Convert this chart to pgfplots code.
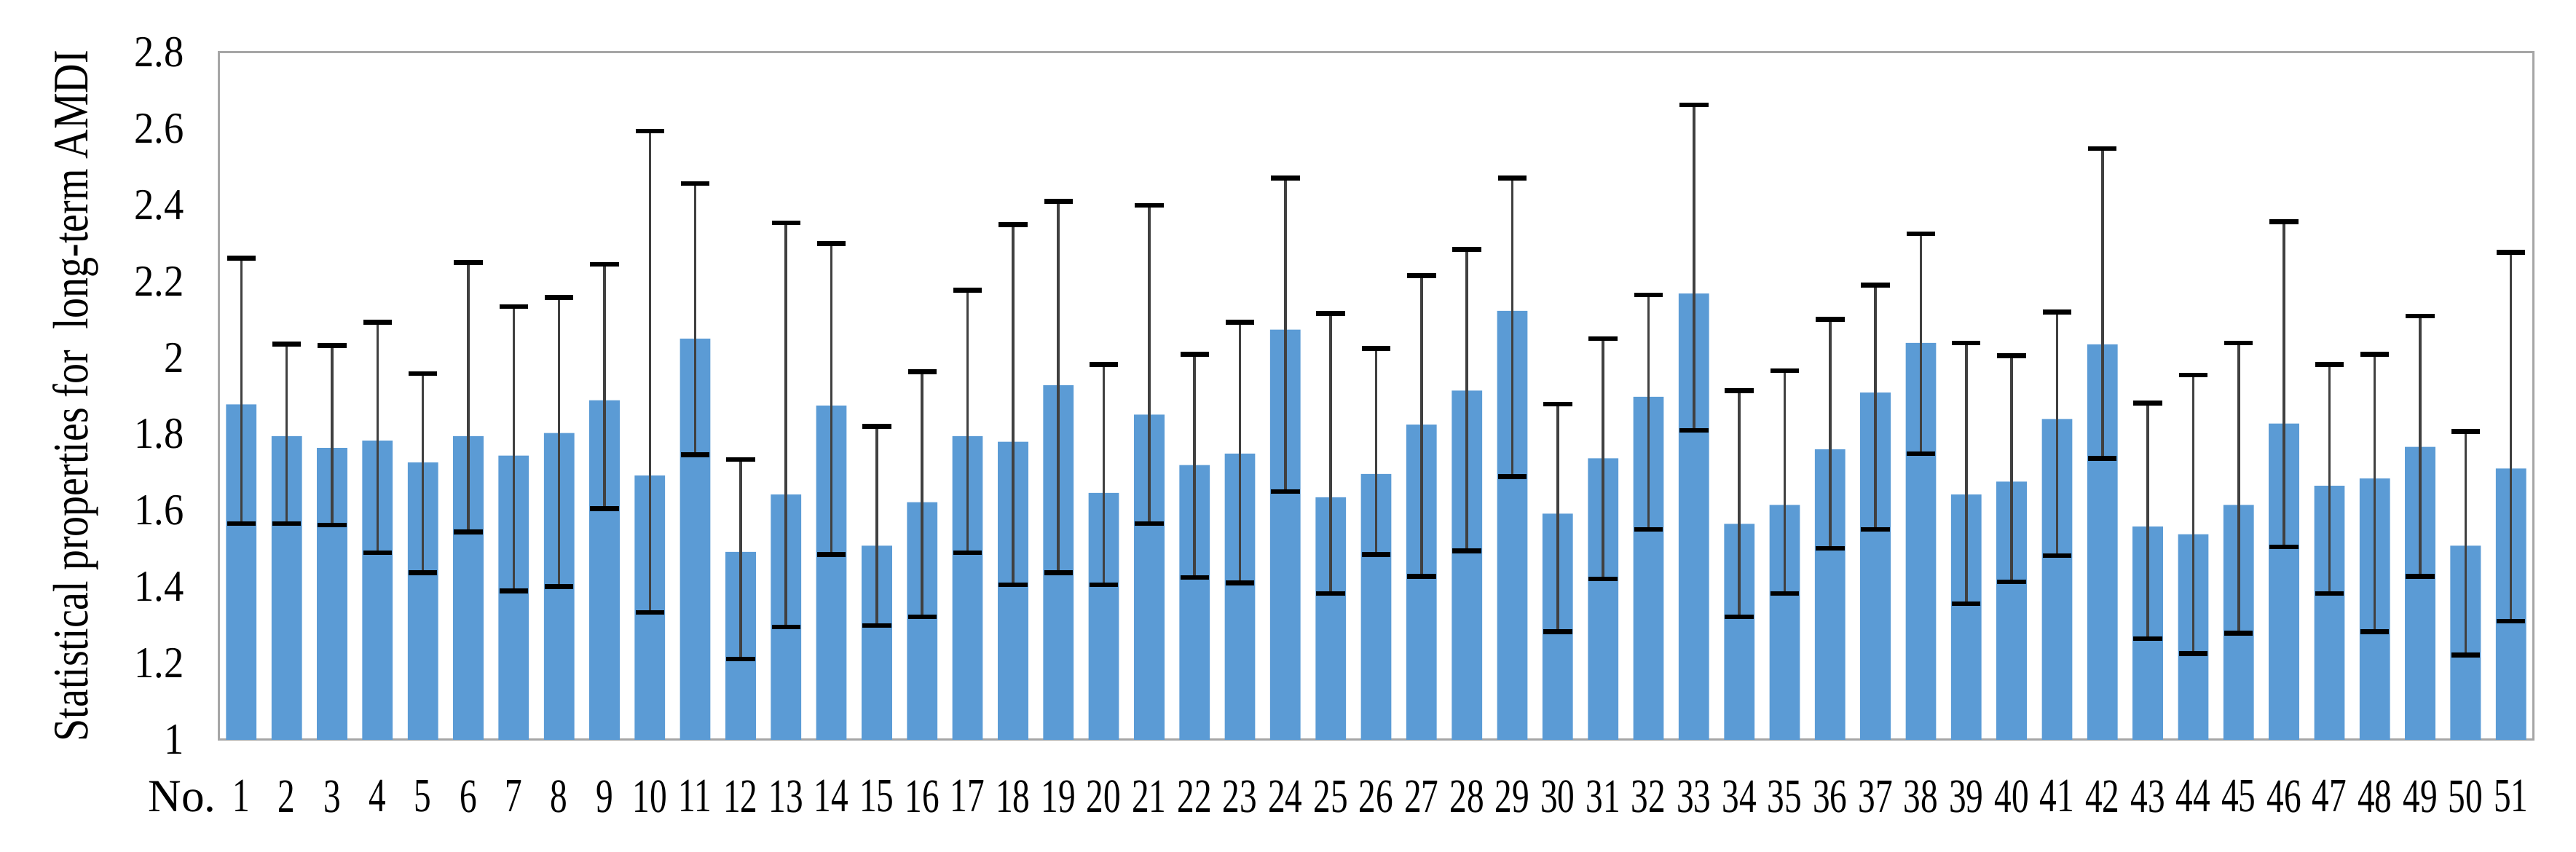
\documentclass[border=0pt]{standalone}
\usepackage{pgfplots}
\usepackage{pgfplotstable}
\usepackage{fontspec}
\setmainfont{Liberation Serif}
\newfontfamily\condfont[FakeStretch=0.72]{Liberation Serif}
\newfontfamily\yfont[FakeStretch=0.9]{Liberation Serif}
\newfontfamily\labfont[FakeStretch=0.82]{Liberation Serif}
\pgfplotsset{compat=1.18}
\definecolor{barblue}{HTML}{5B9BD5}
\definecolor{framegray}{HTML}{A6A6A6}
\pgfplotstableread{
x y hi lo
1 1.878 2.261 1.566
2 1.795 2.036 1.566
3 1.764 2.032 1.562
4 1.783 2.093 1.490
5 1.726 1.959 1.437
6 1.795 2.249 1.544
7 1.744 2.134 1.390
8 1.803 2.158 1.401
9 1.889 2.245 1.605
10 1.692 2.594 1.333
11 2.050 2.456 1.746
12 1.492 1.734 1.211
13 1.642 2.353 1.295
14 1.875 2.299 1.485
15 1.508 1.821 1.299
16 1.622 1.963 1.322
17 1.795 2.177 1.490
18 1.780 2.349 1.406
19 1.928 2.410 1.437
20 1.646 1.983 1.406
21 1.851 2.399 1.566
22 1.719 2.009 1.425
23 1.749 2.093 1.410
24 2.074 2.471 1.650
25 1.635 2.116 1.383
26 1.696 2.025 1.485
27 1.825 2.215 1.428
28 1.914 2.284 1.494
29 2.123 2.471 1.689
30 1.592 1.879 1.283
31 1.737 2.050 1.421
32 1.898 2.165 1.551
33 2.168 2.662 1.810
34 1.565 1.914 1.322
35 1.615 1.966 1.383
36 1.760 2.101 1.501
37 1.909 2.190 1.551
38 2.039 2.325 1.749
39 1.642 2.039 1.356
40 1.676 2.005 1.413
41 1.840 2.120 1.482
42 2.035 2.548 1.737
43 1.558 1.882 1.265
44 1.538 1.955 1.226
45 1.615 2.039 1.279
46 1.828 2.356 1.505
47 1.665 1.982 1.383
48 1.684 2.009 1.283
49 1.767 2.109 1.428
50 1.508 1.807 1.222
51 1.710 2.276 1.310
}\datatable
\begin{document}
\begin{tikzpicture}
\begin{axis}[
  at={(0,0)}, anchor=south west,
  scale only axis,
  width=629pt, height=186.8pt,
  ybar, bar width=0.67,
  xmin=0.5, xmax=51.5,
  ymin=1, ymax=2.8,
  ytick={1,1.2,...,2.8},
  xtick={1,...,51},
  xticklabels={{\llap{\rmfamily\fontsize{12.5}{15}\selectfont No.\hspace{4.5pt}}1},2,3,4,5,6,7,8,9,10,11,12,13,14,15,16,17,18,19,20,21,22,23,24,25,26,27,28,29,30,31,32,33,34,35,36,37,38,39,40,41,42,43,44,45,46,47,48,49,50,51},
  major tick length=0pt,
  axis line style={framegray, line width=0.6pt},
  /pgf/number format/assume math mode=true,
  xticklabel style={font=\condfont\fontsize{13}{15}\selectfont, yshift=-7.5pt},
  yticklabel style={font=\yfont\fontsize{12}{14}\selectfont, xshift=-5.9pt},
  ylabel={Statistical properties for\ \ long-term AMDI},
  ylabel style={font=\labfont\fontsize{13.5}{15}\selectfont, inner sep=0pt, at={(axis description cs:-0.0515,0.5)}, rotate=0, anchor=south},
]
\addplot[fill=barblue, draw=none,
  error bars/.cd, y dir=both, y explicit,
  error bar style={draw=black!75, line width=0.7pt},
  error mark=|,
  error mark options={black, line width=1.3pt, mark size=3.9pt}]
  table[x=x, y=y, y error plus expr=\thisrow{hi}-\thisrow{y}, y error minus expr=\thisrow{y}-\thisrow{lo}] {\datatable};
\end{axis}
\path (-59.4pt,-30.5pt) rectangle (640.5pt,201pt);
\end{tikzpicture}
\end{document}
